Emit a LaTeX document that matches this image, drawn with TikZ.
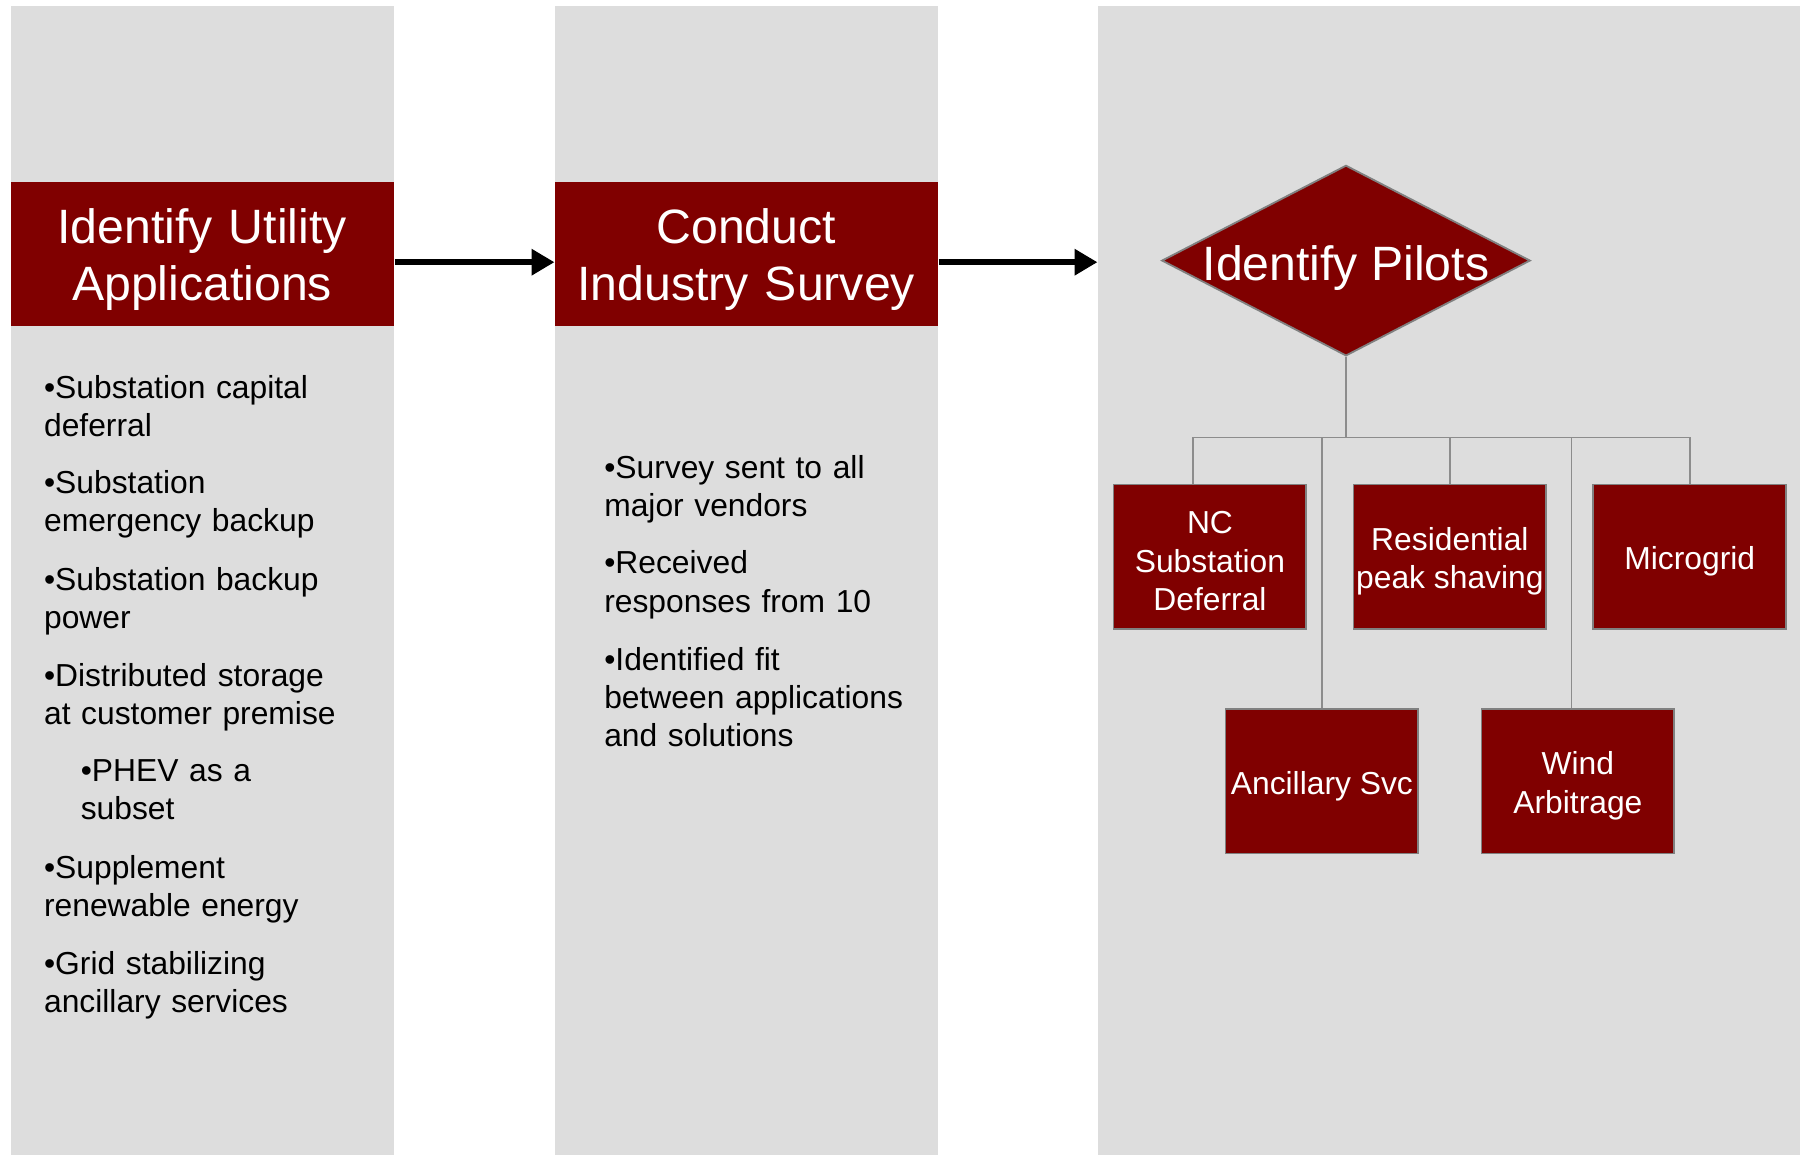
\documentclass[tikz,border=0pt]{standalone}
\usepackage{fontspec}
\setmainfont{Liberation Sans}
\usetikzlibrary{arrows.meta,shapes.geometric}
\definecolor{panelgray}{HTML}{DDDDDD}
\definecolor{maroon}{HTML}{800000}
\definecolor{edgegray}{HTML}{808080}
\definecolor{wiregray}{HTML}{8C8C8C}

\begin{document}
\begin{tikzpicture}[x=0.5pt,y=-0.5pt,
  panel/.style={fill=panelgray, draw=none, inner sep=0pt, anchor=north west,
                minimum width=167pt, minimum height=500.5pt},
  band/.style={fill=maroon, draw=none, inner sep=0pt, anchor=north west,
               minimum width=167pt, minimum height=63pt},
  title/.style={text=white, align=center, text width=166pt, inner sep=0pt,
                anchor=base, font=\fontsize{21}{25}\selectfont},
  bullets/.style={anchor=base west, align=left, text width=150pt, inner sep=0pt,
                  font=\fontsize{13.85}{16.6}\selectfont},
  pilot/.style={fill=maroon, draw=edgegray, line width=0.8pt, inner sep=0pt,
                minimum width=84pt, minimum height=63pt},
  ptext/.style={text=white, align=center, inner sep=0pt, yshift=-2pt,
                font=\fontsize{13.85}{16.75}\selectfont},
  flow/.style={line width=2.5pt, -{Triangle[length=10pt,width=11pt]}},
  wire/.style={draw=wiregray, line width=0.7pt},
]
\useasboundingbox (0,0) rectangle (1568,1006);

% three column panels
\node[panel] (col1) at (9,5) {};
\node[panel] (col2) at (483,5) {};
\node[panel, minimum width=306pt] (col3) at (956,5) {};

% step headers
\node[band] (b1) at (9,158) {};
\node[band] (b2) at (483,158) {};
\node[title] (t1) at (176,212) {Identify Utility\\Applications};
\node[title] (t2) at (650,212) {Conduct\\Industry Survey};

% flow arrows between steps
\draw[flow] ([yshift=-3.5pt]b1.east) -- ([yshift=-3.5pt]b2.west);
\draw[flow] ([yshift=-3.5pt]b2.east) -- ([yshift=-3.5pt]b2.east -| col3.west);

% utility applications
\node[bullets] (u1) at (38,347) {•Substation capital\\deferral};
\node[bullets] (u2) at (38,430) {•Substation\\emergency backup};
\node[bullets] (u3) at (38,514) {•Substation backup\\power};
\node[bullets] (u4) at (38,598) {•Distributed storage\\at customer premise};
\node[bullets] (u5) at (70,681) {•PHEV as a\\subset};
\node[bullets] (u6) at (38,765) {•Supplement\\renewable energy};
\node[bullets] (u7) at (38,849) {•Grid stabilizing\\ancillary services};

% survey notes
\node[bullets] (s1) at (526,417) {•Survey sent to all\\major vendors};
\node[bullets] (s2) at (526,500) {•Received\\responses from 10};
\node[bullets] (s3) at (526,584) {•Identified fit\\between applications\\and solutions};

% pilot selection
\node[diamond, fill=maroon, draw=edgegray, line width=0.8pt, inner sep=0pt,
      minimum width=160.5pt, minimum height=83pt] (dia) at (1172.5,227) {};
\node[text=white, anchor=base, inner sep=0pt, font=\fontsize{21}{25}\selectfont]
  (dt) at (1172.5,244) {Identify Pilots};

\node[pilot, label={[ptext]center:{NC\\Substation\\Deferral}}] (nc) at (1054,485) {};
\node[pilot, label={[ptext]center:{Residential\\peak shaving}}] (res) at (1263,485) {};
\node[pilot, label={[ptext]center:{Microgrid}}] (mg) at (1472,485) {};
\node[pilot, label={[ptext]center:{Ancillary Svc}}] (anc) at (1151.5,680.5) {};
\node[pilot, label={[ptext]center:{Wind\\Arbitrage}}] (wa) at (1374.5,680.5) {};

% tree connectors
\coordinate (j1) at (1039,381);
\coordinate (j4) at (1369,381);
\coordinate (hub) at (dia.south |- j1);
\draw[wire] (dia.south) -- (hub);
\draw[wire] (j1) -- (mg.north |- j1);
\draw[wire] (j1) -- (j1 |- nc.north);
\draw[wire] (anc.north |- j1) -- (anc.north);
\draw[wire] (res.north |- j1) -- (res.north);
\draw[wire] (j4) -- (j4 |- wa.north);
\draw[wire] (mg.north |- j1) -- (mg.north);
\end{tikzpicture}
\end{document}
